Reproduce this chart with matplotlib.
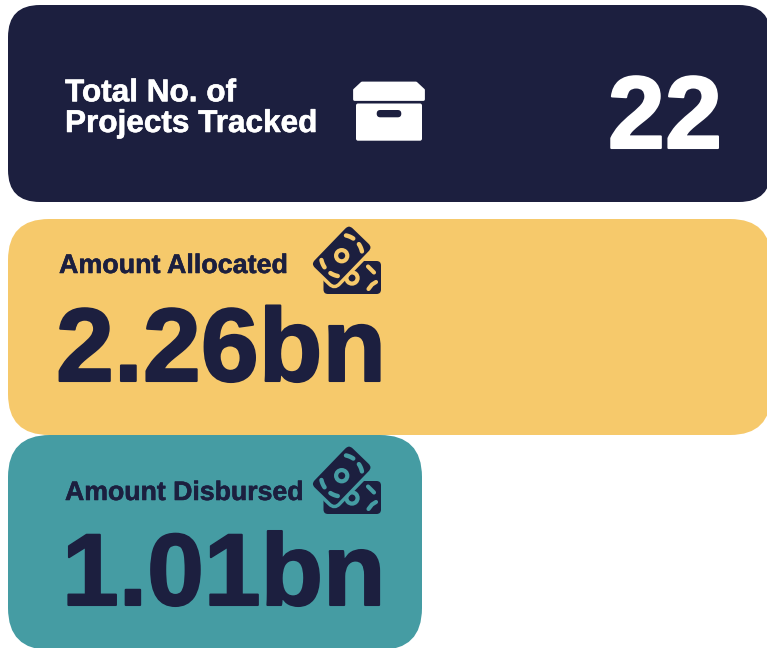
import numpy as np
import matplotlib
matplotlib.use('Agg')
import matplotlib.pyplot as plt
import matplotlib.patheffects as pe
from matplotlib.patches import FancyBboxPatch, Polygon, Circle
from matplotlib.transforms import Affine2D

plt.rcParams['font.family'] = ['Liberation Sans', 'DejaVu Sans']

NAVY = '#1c1f3f'
YELLOW = '#f6c96b'
TEAL = '#459ca3'

card_labels = ['Total No. of\nProjects Tracked', 'Amount Allocated', 'Amount Disbursed']
card_values = ['22', '2.26bn', '1.01bn']


def card(ax, x0, y0, x1, y1, r, color):
    p = FancyBboxPatch((x0 + r, y0 + r), x1 - x0 - 2 * r, y1 - y0 - 2 * r,
                       boxstyle=f'round,pad={r},rounding_size={r}',
                       fc=color, ec='none')
    ax.add_patch(p)


def heavy(color, lw):
    # the original font is a bit heavier than Liberation bold
    return [pe.withStroke(linewidth=lw, foreground=color)]


def box_icon(ax):
    lid = Polygon([(354.5, 99.5), (354.5, 90), (362, 83), (416, 83), (423.5, 90), (423.5, 99.5)],
                  fc='white', ec='white', lw=2, joinstyle='round')
    ax.add_patch(lid)
    card(ax, 356, 103.5, 422, 140.7, 2, 'white')
    card(ax, 376.7, 110, 401.3, 117.3, 3.6, NAVY)


def money_icon(ax, dy, bg):
    # back note
    card(ax, 323.5, 261 + dy, 381, 294 + dy, 4.5, NAVY)
    ax.add_patch(Circle((352, 278 + dy), 5.6, fc=NAVY, ec=bg, lw=3))
    for xs, ys in [((368, 371, 374), (266.5, 269.5, 272.5)), ((368.5, 372, 376), (289, 284.5, 282))]:
        ax.plot(xs, np.array(ys) + dy, color=bg, lw=3, solid_capstyle='round')

    # front note, rotated about the ring in the middle
    cx, cy = 341.7, 255.7 + dy
    rot = Affine2D().rotate_deg_around(cx, cy, 44) + ax.transData
    w, h, r = 36, 58, 7
    front = FancyBboxPatch((cx - w / 2 + r, cy - h / 2 + r), w - 2 * r, h - 2 * r,
                           boxstyle=f'round,pad={r},rounding_size={r}',
                           fc=NAVY, ec=bg, lw=2.5, transform=rot)
    ax.add_patch(front)
    ax.add_patch(Circle((cx, cy), 5.6, fc=NAVY, ec=bg, lw=3))
    for mid in [-67, -23, 112, 157]:
        t = np.radians(np.linspace(mid - 11, mid + 11, 12))
        ax.plot(cx + 20.7 * np.cos(t), cy + 20.7 * np.sin(t), color=bg, lw=3.2,
                solid_capstyle='round')


fig = plt.figure(figsize=(7.67, 6.48), dpi=100)
ax = fig.add_axes([0, 0, 1, 1])
ax.set_xlim(0, 767)
ax.set_ylim(648, 0)
ax.axis('off')

card(ax, 8, 5, 771, 202, 32, NAVY)
card(ax, 8, 219, 771, 435, 41, YELLOW)
card(ax, 8, 435, 422, 650, 42, TEAL)

ax.text(65, 132, card_labels[0], color='white', fontsize=22.7, fontweight='bold',
        va='baseline', ha='left', linespacing=1.03, path_effects=heavy('white', 0.4))
ax.text(722, 148, card_values[0], color='white', fontsize=74, fontweight='bold',
        va='baseline', ha='right', path_effects=heavy('white', 1.5))
box_icon(ax)

ax.text(59, 273, card_labels[1], color=NAVY, fontsize=19.35, fontweight='bold', va='baseline',
        path_effects=heavy(NAVY, 0.4))
ax.text(56, 381, card_values[1], color=NAVY, fontsize=75, fontweight='bold', va='baseline',
        path_effects=heavy(NAVY, 1.5))
money_icon(ax, 0, YELLOW)

ax.text(65, 500, card_labels[2], color=NAVY, fontsize=19.2, fontweight='bold', va='baseline',
        path_effects=heavy(NAVY, 0.4))
ax.text(62, 605, card_values[2], color=NAVY, fontsize=73.5, fontweight='bold', va='baseline',
        path_effects=heavy(NAVY, 1.5))
money_icon(ax, 220, TEAL)

fig.savefig('out.png', dpi=100)
